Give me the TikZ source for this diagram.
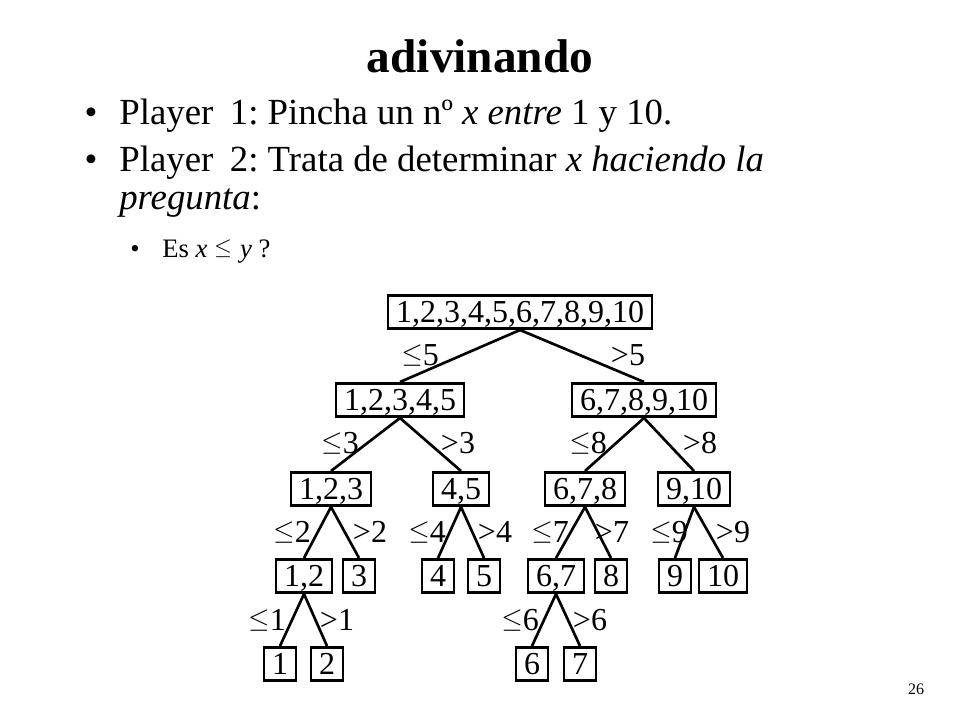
\documentclass[tikz,border=0pt]{standalone}
\usepackage{fontspec}
\setmainfont{Liberation Serif}
\usetikzlibrary{positioning}

\newcommand{\lesym}[2]{{\fontsize{#1}{#1}\selectfont\raisebox{#2}{$\leq$}}}

\begin{document}
\frenchspacing
\begin{tikzpicture}[x=0.75pt,y=-0.75pt,line width=2pt,
    numbox/.style={draw,line width=2pt,inner xsep=6pt,inner ysep=0pt,
        minimum height=25pt,text height=16pt,text depth=0pt,
        font=\fontsize{24}{28}\selectfont},
    cond/.style={inner sep=0pt,text height=16pt,text depth=0pt,
        font=\fontsize{24}{28}\selectfont},
    branch/.style={line width=2pt},
    bulletline/.style={anchor=base west,inner sep=0pt,
        font=\fontsize{27.6}{32}\selectfont},
    subline/.style={anchor=base west,inner sep=0pt,
        font=\fontsize{20}{24}\selectfont}]

\useasboundingbox (0,0) rectangle (960,720);

\node [anchor=base,inner sep=0pt] (title) at (480,73)
    {\fontsize{35.5}{40}\selectfont\bfseries adivinando};

% text
\node [bulletline,anchor=base] (dot1) at (91,125) {\textbullet};
\node [bulletline] (p1) at (118,125)
    {Player\hspace{0.45em}1: Pincha un nº \textit{x entre} 1 y 10.};
\node [bulletline,anchor=base] (dot2) at (91,172) {\textbullet};
\node [bulletline] (p2) at (118,172)
    {Player\hspace{0.45em}2: Trata de determinar \textit{x haciendo la}};
\node [bulletline] (p2b) at (118,210) {\textit{pregunta}:};
\node [subline,anchor=base] (dot3) at (135,258) {\textbullet};
\node [subline] (q) at (161,258)
    {Es \textit{x} \lesym{17}{2.3pt}\hspace{6pt}\textit{y} ?};

% tree
\node [numbox] (root) at (520,312) {1,2,3,4,5,6,7,8,9,10};

\node [numbox] (n12345) at (400,400) {1,2,3,4,5};
\node [numbox] (n678910) at (644,400) {6,7,8,9,10};

\node [numbox] (n123) at (331,489) {1,2,3};
\node [numbox] (n45) at (461,489) {4,5};
\node [numbox] (n678) at (585,489) {6,7,8};
\node [numbox] (n910) at (694,489) {9,10};

\node [numbox] (n12) at (304,576) {1,2};
\node [numbox] (n3) at (359,576) {3};
\node [numbox] (n4) at (438,576) {4};
\node [numbox] (n5) at (484,576) {5};
\node [numbox] (n67) at (556,576) {6,7};
\node [numbox] (n8) at (611,576) {8};
\node [numbox] (n9) at (675,576) {9};
\node [numbox] (n10) at (723,576) {10};

\node [numbox] (n1) at (280,664) {1};
\node [numbox] (n2) at (327,664) {2};
\node [numbox] (n6) at (532,664) {6};
\node [numbox] (n7) at (580,664) {7};

% branches
\draw [branch] (root.south) -- (n12345.north);
\draw [branch] (root.south) -- (n678910.north);
\draw [branch] (n12345.south) -- (n123.north);
\draw [branch] (n12345.south) -- (n45.north);
\draw [branch] (n678910.south) -- (n678.north);
\draw [branch] (n678910.south) -- (n910.north);
\draw [branch] (n123.south) -- (n12.north);
\draw [branch] (n123.south) -- (n3.north);
\draw [branch] (n45.south) -- (n4.north);
\draw [branch] (n45.south) -- (n5.north);
\draw [branch] (n678.south) -- (n67.north);
\draw [branch] (n678.south) -- (n8.north);
\draw [branch] (n910.south) -- (n9.north);
\draw [branch] (n910.south) -- (n10.north);
\draw [branch] (n12.south) -- (n1.north);
\draw [branch] (n12.south) -- (n2.north);
\draw [branch] (n67.south) -- (n6.north);
\draw [branch] (n67.south) -- (n7.north);

% conditions
\node [cond] (le5) at (420,355) {\lesym{20}{2.7pt}5};
\node [cond] (gt5) at (628,355) {>5};
\node [cond] (le3) at (340,443) {\lesym{20}{2.7pt}3};
\node [cond] (gt3) at (458,443) {>3};
\node [cond] (le8) at (588,443) {\lesym{20}{2.7pt}8};
\node [cond] (gt8) at (700,443) {>8};
\node [cond] (le2) at (292,532) {\lesym{20}{2.7pt}2};
\node [cond] (gt2) at (370,532) {>2};
\node [cond] (le4) at (427,532) {\lesym{20}{2.7pt}4};
\node [cond] (gt4) at (495,532) {>4};
\node [cond] (le7) at (550,532) {\lesym{20}{2.7pt}7};
\node [cond] (gt7) at (612,532) {>7};
\node [cond] (le9) at (669,532) {\lesym{20}{2.7pt}9};
\node [cond] (gt9) at (733,532) {>9};
\node [cond] (le1) at (267,620) {\lesym{20}{2.7pt}1};
\node [cond] (gt1) at (337,620) {>1};
\node [cond] (le6) at (520,620) {\lesym{20}{2.7pt}6};
\node [cond] (gt6) at (590,620) {>6};

\node [anchor=base,inner sep=0pt] (page) at (916,694)
    {\fontsize{12}{14}\selectfont 26};

\end{tikzpicture}
\end{document}
